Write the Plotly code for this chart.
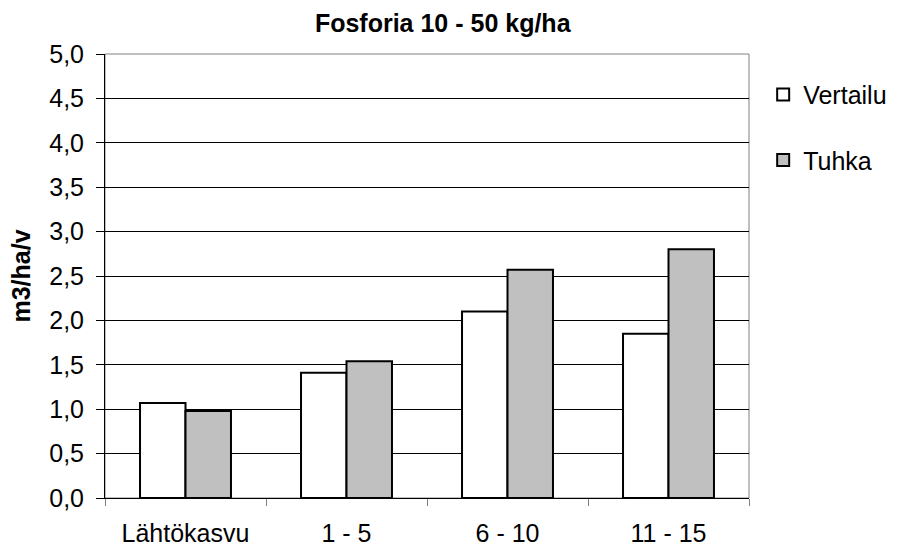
import plotly.graph_objects as go

categories = ["Lähtökasvu", "1 - 5", "6 - 10", "11 - 15"]
vertailu = [1.07, 1.41, 2.10, 1.85]
tuhka = [0.98, 1.54, 2.57, 2.80]
y_ticks = [0, 0.5, 1.0, 1.5, 2.0, 2.5, 3.0, 3.5, 4.0, 4.5, 5.0]
y_labels = [f"{v:.1f}".replace(".", ",") for v in y_ticks]

FONT = "Liberation Sans, Arial, sans-serif"

fig = go.Figure()
fig.add_trace(go.Bar(name="Vertailu", x=categories, y=vertailu,
                     marker=dict(color="#FFFFFF", line=dict(color="#000000", width=2)),
                     legendgroup="a"))
fig.add_trace(go.Bar(name="Tuhka", x=categories, y=tuhka,
                     marker=dict(color="#C0C0C0", line=dict(color="#000000", width=2)),
                     legendgroup="b"))

fig.update_layout(
    width=898, height=549,
    margin=dict(l=105, r=149, t=54, b=51, autoexpand=False),
    paper_bgcolor="white", plot_bgcolor="white",
    barmode="group", bargap=0.435, bargroupgap=0,
    font=dict(family=FONT, size=25, color="#000000"),
    title=dict(text="<b>Fosforia 10 - 50 kg/ha</b>", x=0.493, xanchor="center",
               y=0.958, yanchor="middle", font=dict(size=25, family=FONT)),
    showlegend=True,
    legend=dict(x=1.022, y=0.96, xanchor="left", yanchor="top",
                font=dict(size=25, family=FONT), tracegroupgap=30,
                bgcolor="rgba(0,0,0,0)", itemwidth=30),
    xaxis=dict(showline=True, linecolor="#000000", linewidth=1,
               ticks="outside", tickson="boundaries", ticklen=7, tickcolor="#808080",
               ticklabelstandoff=13,
               showgrid=False, tickfont=dict(size=25)),
    yaxis=dict(range=[0, 5], tickvals=y_ticks, ticktext=y_labels,
               showline=True, linecolor="#000000", linewidth=1,
               ticks="outside", ticklen=8, tickcolor="#000000",
               ticklabelstandoff=7,
               showgrid=True, gridcolor="#000000", gridwidth=1,
               tickfont=dict(size=25), zeroline=False,
               title=dict(text="<b>m3/ha/v</b>", font=dict(size=25), standoff=11)),
)
fig.add_shape(type="rect", xref="paper", yref="paper", x0=0, y0=0, x1=1, y1=1,
              line=dict(color="#808080", width=1), layer="below")

fig.write_html("out.html")
